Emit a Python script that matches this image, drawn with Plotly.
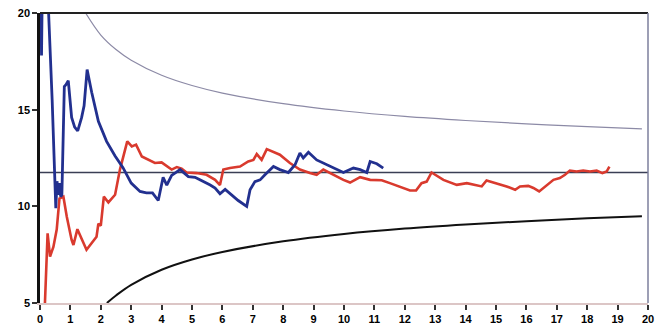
import plotly.graph_objects as go

# Blue series
blue_x = [0.03,0.05,0.07,0.27,0.40,0.52,0.56,0.60,0.64,0.68,0.72,0.80,0.86,0.93,1.04,1.14,1.24,1.37,1.45,1.55,1.70,1.92,2.19,2.47,2.73,3.0,3.29,3.5,3.7,3.89,4.05,4.17,4.33,4.5,4.61,4.88,5.1,5.26,5.48,5.6,5.76,5.92,6.09,6.3,6.52,6.8,6.91,7.07,7.24,7.4,7.68,7.89,8.17,8.39,8.55,8.66,8.83,9.1,9.43,9.76,9.98,10.31,10.53,10.75,10.86,11.08,11.29]
blue_y = [20.5,17.8,20.5,20.5,15.5,9.9,11.3,10.6,11.2,10.5,10.6,16.2,16.3,16.5,14.6,14.1,13.9,14.6,15.2,17.07,15.9,14.4,13.36,12.6,12.0,11.2,10.77,10.7,10.7,10.3,11.5,11.1,11.6,11.8,11.9,11.54,11.5,11.37,11.2,11.1,10.94,10.65,10.88,10.6,10.3,10.0,10.86,11.28,11.37,11.63,12.06,11.9,11.75,12.15,12.76,12.5,12.8,12.4,12.15,11.9,11.75,11.98,11.9,11.75,12.32,12.2,11.98]

# Red series
red_x = [0.16,0.25,0.33,0.44,0.55,0.64,0.77,0.88,1.04,1.1,1.23,1.53,1.86,1.92,2.0,2.1,2.25,2.47,2.63,2.87,3.02,3.16,3.35,3.56,3.78,4.0,4.17,4.33,4.5,4.66,4.82,5.15,5.48,5.76,5.92,6.03,6.25,6.58,6.85,7.02,7.13,7.29,7.46,7.62,7.89,8.22,8.55,8.88,9.1,9.32,9.65,9.98,10.2,10.53,10.86,11.24,11.51,11.84,12.17,12.37,12.55,12.72,12.88,13.27,13.71,14.04,14.36,14.53,14.69,15.02,15.35,15.63,15.79,16.06,16.23,16.42,16.67,16.89,17.1,17.27,17.43,17.65,17.87,18.09,18.31,18.5,18.64,18.73]
red_y = [4.9,8.6,7.4,7.9,8.8,10.4,10.5,9.47,8.26,8.0,8.82,7.75,8.43,9.1,9.0,10.5,10.2,10.6,11.9,13.36,13.1,13.19,12.58,12.4,12.24,12.27,12.1,11.9,12.03,11.95,11.75,11.72,11.63,11.37,11.1,11.9,11.98,12.06,12.32,12.4,12.7,12.4,12.96,12.85,12.67,12.24,11.9,11.72,11.63,11.9,11.63,11.37,11.23,11.51,11.37,11.35,11.2,11.03,10.82,10.82,11.2,11.28,11.75,11.37,11.11,11.2,11.11,11.03,11.34,11.2,11.03,10.86,11.03,11.06,10.95,10.77,11.11,11.37,11.46,11.63,11.85,11.8,11.85,11.8,11.85,11.72,11.8,12.06]

# Upper and lower limit curves
upper_x = [1.5, 2, 2.5, 3, 4, 5, 6, 8, 10, 12, 14, 16, 18, 19.8]
upper_y = [20.0, 18.86, 18.11, 17.56, 16.78, 16.25, 15.86, 15.31, 14.93, 14.65, 14.44, 14.27, 14.12, 14.01]
lower_x = [2.2, 2.5, 3, 4, 5, 6, 8, 10, 12, 14, 16, 18, 19.8]
lower_y = [5.0, 5.39, 5.94, 6.72, 7.25, 7.64, 8.19, 8.57, 8.85, 9.06, 9.23, 9.38, 9.49]

# Centre line
center_y = 11.75

x_ticks = list(range(0, 21))
y_ticks = [5, 10, 15, 20]

fig = go.Figure()
fig.add_trace(go.Scatter(x=upper_x, y=upper_y, mode="lines", line=dict(color="#8c8aa6", width=1.2, shape="spline"), showlegend=False))
fig.add_trace(go.Scatter(x=lower_x, y=lower_y, mode="lines", line=dict(color="#111111", width=2, shape="spline"), showlegend=False))
fig.add_trace(go.Scatter(x=[0, 20], y=[center_y, center_y], mode="lines", line=dict(color="#3a3f55", width=1.5), showlegend=False))
fig.add_trace(go.Scatter(x=red_x, y=red_y, mode="lines", line=dict(color="#d93a2e", width=2.6), showlegend=False))
fig.add_trace(go.Scatter(x=blue_x, y=blue_y, mode="lines", line=dict(color="#22308f", width=2.8), showlegend=False))

fig.update_layout(
    width=665, height=330,
    margin=dict(l=40, r=17, t=13, b=27, autoexpand=False),
    paper_bgcolor="white", plot_bgcolor="white",
    font=dict(family="Liberation Sans, Arial, sans-serif", size=11, color="black"),
    shapes=[
        dict(type="line", xref="paper", yref="paper", x0=0, x1=1, y0=1, y1=1, line=dict(color="#222222", width=2)),
        dict(type="line", xref="paper", yref="paper", x0=1, x1=1, y0=0, y1=1, line=dict(color="#7c7f9c", width=1.5)),
    ],
)
fig.update_xaxes(range=[0, 20], tickvals=x_ticks, ticktext=[str(v) for v in x_ticks],
                 showgrid=False, zeroline=False, showline=True, linecolor="#dcc6c6", linewidth=2,
                 ticks="outside", ticklen=5, tickwidth=1.5, tickcolor="#333333",
                 tickfont=dict(size=11, color="black", weight="bold"))
fig.update_yaxes(range=[5, 20], tickvals=y_ticks, ticktext=[str(v) for v in y_ticks],
                 showgrid=False, zeroline=False, showline=True, linecolor="#111111", linewidth=2.5,
                 ticks="outside", ticklen=5, tickwidth=1.5, tickcolor="#333333",
                 tickfont=dict(size=11, color="black", weight="bold"))

fig.write_html("out.html", config={"displayModeBar": False})
with open("out.html", "r", encoding="utf-8") as f:
    html = f.read()
html = html.replace("<head>", "<head><style>html,body{margin:0;padding:0;overflow:hidden;}</style>", 1)
with open("out.html", "w", encoding="utf-8") as f:
    f.write(html)
